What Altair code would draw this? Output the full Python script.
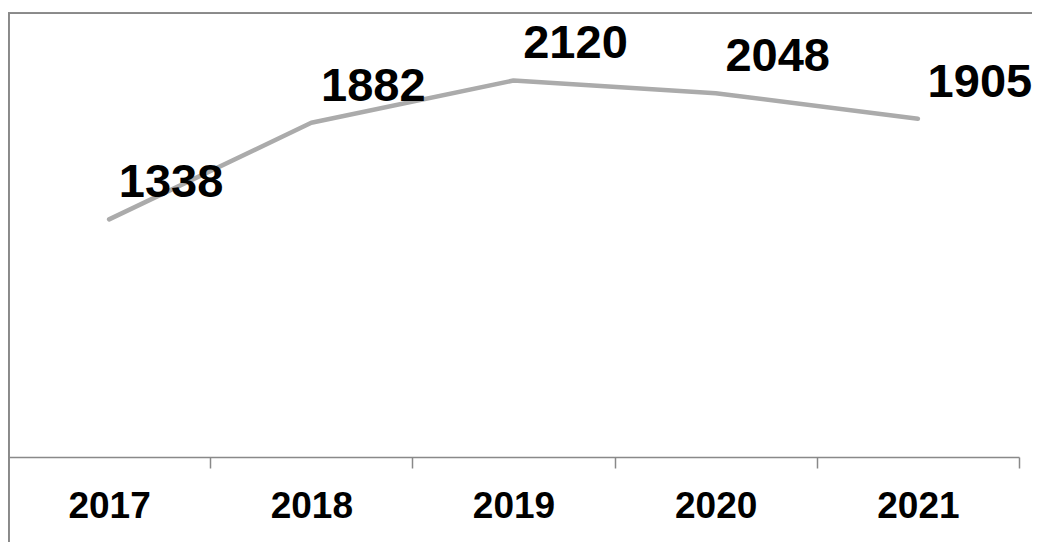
import altair as alt
import pandas as pd

years = ["2017", "2018", "2019", "2020", "2021"]
values = [1338, 1882, 2120, 2048, 1905]

df = pd.DataFrame({"year": years, "value": values})

FRAME = "#898989"
FONT = "Liberation Sans"

x = alt.X(
    "year:N",
    sort=years,
    scale=alt.Scale(paddingInner=0, paddingOuter=0),
    axis=alt.Axis(
        title=None,
        labelAngle=0,
        labelFont=FONT,
        labelFontWeight="bold",
        labelFontSize=37,
        labelColor="black",
        labelBaseline="alphabetic",
        labelPadding=49,
        tickBand="extent",
        tickSize=11,
        tickColor=FRAME,
        tickWidth=1.5,
        domainColor=FRAME,
        domainWidth=1.5,
        grid=False,
    ),
)
y = alt.Y("value:Q", scale=alt.Scale(domain=[0, 2500], nice=False), axis=None)

base = alt.Chart(df)

line = base.mark_line(color="#ABABAB", strokeWidth=4.5, strokeCap="round", strokeJoin="round").encode(x=x, y=y)

labels = base.mark_text(
    align="center",
    baseline="alphabetic",
    dx=62,
    dy=-22,
    font=FONT,
    fontWeight="bold",
    fontSize=47,
    color="black",
).encode(x=x, y=y, text="value:Q")

top_rule = alt.Chart(df).mark_rule(color=FRAME, strokeWidth=1.5).encode(
    x=alt.value(0), x2=alt.value(1024), y=alt.value(0.25)
)
left_rule = alt.Chart(df).mark_rule(color=FRAME, strokeWidth=1.5).encode(
    x=alt.value(0.75), y=alt.value(0), y2=alt.value(529)
)

chart = (
    alt.layer(line, labels, top_rule, left_rule)
    .properties(
        width=1011,
        height=444,
        background="white",
        autosize=alt.AutoSizeParams(type="none"),
        padding={"left": 0, "top": 5, "right": 13, "bottom": 85},
    )
    .configure_view(stroke="transparent", strokeWidth=0)
)

chart.save("out.html", embed_options={"renderer": "svg", "actions": False})
